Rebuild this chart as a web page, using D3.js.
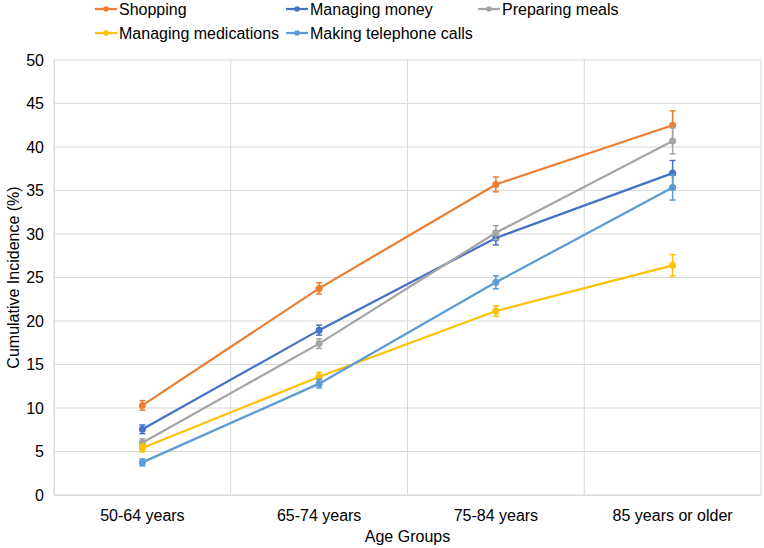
<!DOCTYPE html>
<html><head><meta charset="utf-8">
<script src="https://cdn.jsdelivr.net/npm/d3@7"></script>
<style>body{margin:0;background:#fff}svg{display:block}text{font-family:"Liberation Sans",Arial,sans-serif;fill:#000}</style>
</head><body><svg id="c" width="764" height="548"></svg>
<script>
const categories = ["50-64 years","65-74 years","75-84 years","85 years or older"];
const seriesNames = ["Shopping","Managing money","Preparing meals","Managing medications","Making telephone calls"];
const shopping = [10.3, 23.75, 35.7, 42.5];
const shoppingErr = [0.55, 0.65, 0.85, 1.65];
const managingMoney = [7.55, 18.95, 29.55, 37.0];
const managingMoneyErr = [0.5, 0.57, 0.8, 1.45];
const preparingMeals = [6.0, 17.4, 30.15, 40.7];
const preparingMealsErr = [0.45, 0.55, 0.8, 1.5];
const managingMedications = [5.4, 13.6, 21.15, 26.4];
const managingMedicationsErr = [0.45, 0.5, 0.6, 1.23];
const makingCalls = [3.75, 12.8, 24.45, 35.35];
const makingCallsErr = [0.4, 0.5, 0.75, 1.45];
const yTicks = [0,5,10,15,20,25,30,35,40,45,50];
const colors = ["#ED7D31","#4472C4","#A5A5A5","#FFC000","#5B9BD5"];

const series = [
  {name: seriesNames[0], values: shopping, err: shoppingErr, color: colors[0]},
  {name: seriesNames[1], values: managingMoney, err: managingMoneyErr, color: colors[1]},
  {name: seriesNames[2], values: preparingMeals, err: preparingMealsErr, color: colors[2]},
  {name: seriesNames[3], values: managingMedications, err: managingMedicationsErr, color: colors[3]},
  {name: seriesNames[4], values: makingCalls, err: makingCallsErr, color: colors[4]}
];

const svg = d3.select("#c");
const L = 54, R = 761, T = 60, B = 495;
const x = d3.scaleBand().domain(categories).range([L, R]);
const y = d3.scaleLinear().domain([0, 50]).range([B, T]);

// horizontal gridlines
svg.append("g").selectAll("line").data(yTicks).join("line")
  .attr("x1", L).attr("x2", R).attr("y1", d => y(d)).attr("y2", d => y(d))
  .attr("stroke", "#d9d9d9").attr("stroke-width", 1);
// vertical gridlines (category boundaries)
const bounds = categories.map(c => x(c)).concat([R]);
svg.append("g").selectAll("line").data(bounds).join("line")
  .attr("x1", d => d).attr("x2", d => d).attr("y1", T).attr("y2", B)
  .attr("stroke", "#d9d9d9").attr("stroke-width", 1);

// y axis
const yAxis = svg.append("g").attr("transform", `translate(${L},0)`)
  .call(d3.axisLeft(y).tickValues(yTicks).tickSize(0).tickPadding(10));
yAxis.select(".domain").attr("stroke", "#d9d9d9");
yAxis.selectAll("text").style("font-size", "16px").attr("fill", "#000");

// x axis
const xAxis = svg.append("g").attr("transform", `translate(0,${B})`)
  .call(d3.axisBottom(x).tickSize(0).tickPadding(15));
xAxis.select(".domain").attr("stroke", "#d9d9d9");
xAxis.selectAll("text").style("font-size", "16px").attr("fill", "#000");

// axis titles
svg.append("text").attr("x", (L + R) / 2).attr("y", 542).attr("text-anchor", "middle")
  .style("font-size", "16px").text("Age Groups");
svg.append("text").attr("transform", `translate(19,${(T + B) / 2}) rotate(-90)`)
  .attr("text-anchor", "middle").style("font-size", "16px").text("Cumulative Incidence (%)");

const cx = c => x(c) + x.bandwidth() / 2;
const line = d3.line().x((d, i) => cx(categories[i])).y(d => y(d));

series.forEach(s => {
  const g = svg.append("g");
  g.append("path").datum(s.values).attr("d", line)
    .attr("fill", "none").attr("stroke", s.color).attr("stroke-width", 2.25);
  const pts = s.values.map((v, i) => ({c: categories[i], v, e: s.err[i]}));
  g.selectAll(".eb").data(pts).join("line")
    .attr("x1", d => cx(d.c)).attr("x2", d => cx(d.c))
    .attr("y1", d => y(d.v - d.e)).attr("y2", d => y(d.v + d.e))
    .attr("stroke", s.color).attr("stroke-width", 1.5);
  ["lo", "hi"].forEach(k => {
    g.selectAll(".cap" + k).data(pts).join("line")
      .attr("x1", d => cx(d.c) - 3).attr("x2", d => cx(d.c) + 3)
      .attr("y1", d => y(k === "lo" ? d.v - d.e : d.v + d.e))
      .attr("y2", d => y(k === "lo" ? d.v - d.e : d.v + d.e))
      .attr("stroke", s.color).attr("stroke-width", 1.5);
  });
  g.selectAll("circle").data(pts).join("circle")
    .attr("cx", d => cx(d.c)).attr("cy", d => y(d.v)).attr("r", 3.5)
    .attr("fill", s.color);
});

// legend
const legendPos = [[95, 9], [286, 9], [478, 9], [95, 33], [286, 33]];
series.forEach((s, i) => {
  const [lx, ly] = legendPos[i];
  const g = svg.append("g");
  g.append("line").attr("x1", lx).attr("x2", lx + 22).attr("y1", ly).attr("y2", ly)
    .attr("stroke", s.color).attr("stroke-width", 2.25);
  g.append("circle").attr("cx", lx + 11).attr("cy", ly).attr("r", 2.8).attr("fill", s.color);
  g.append("text").attr("x", lx + 24).attr("y", ly).attr("dy", "0.35em")
    .style("font-size", "16px").text(s.name);
});
</script></body></html>
